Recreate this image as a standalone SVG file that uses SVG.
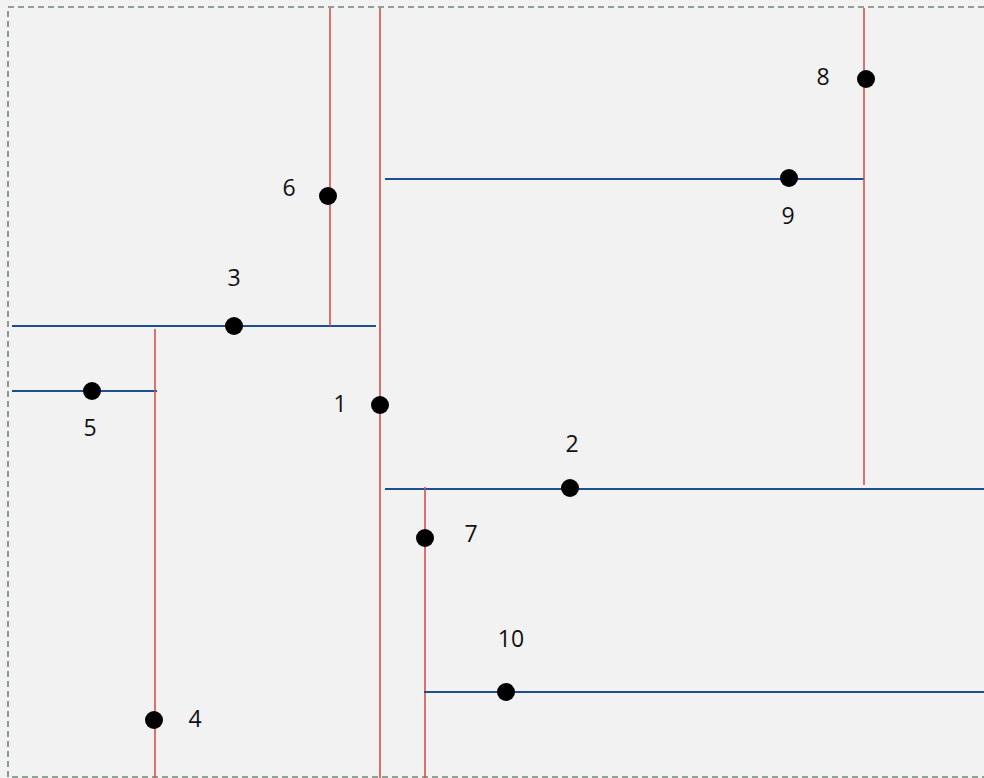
<svg xmlns="http://www.w3.org/2000/svg" width="984" height="778" viewBox="0 0 984 778">
<style>
.v{stroke:#d2504c;stroke-width:1.6;fill:none}
.h{stroke:#1d4f8f;stroke-width:2;fill:none}
.pt{fill:#000}
.lb{font-family:"Open Sans","DejaVu Sans",sans-serif;font-size:23px;fill:#111;text-anchor:middle;dominant-baseline:central}
</style>
<rect x="0" y="0" width="984" height="778" fill="#f2f2f2"/>
<rect x="8" y="7" width="990" height="770" fill="none" stroke="#718577" stroke-width="1.6" stroke-dasharray="6,4"/>
<g id="connectors">
<line class="v" x1="380" y1="8" x2="380" y2="778"/>
<line class="h" x1="12" y1="326" x2="376" y2="326"/>
<line class="v" x1="330" y1="8" x2="330" y2="326"/>
<line class="h" x1="12" y1="391" x2="157" y2="391"/>
<line class="v" x1="155" y1="329" x2="155" y2="778"/>
<line class="h" x1="385" y1="179" x2="864" y2="179"/>
<line class="v" x1="864" y1="8" x2="864" y2="485"/>
<line class="h" x1="385" y1="489" x2="984" y2="489"/>
<line class="v" x1="425" y1="487" x2="425" y2="778"/>
<line class="h" x1="424" y1="692" x2="984" y2="692"/>
</g>
<g id="n1"><circle class="pt" cx="380" cy="405" r="9"/><text class="lb" x="340" y="403">1</text></g>
<g id="n2"><circle class="pt" cx="570" cy="488" r="9"/><text class="lb" x="572" y="443">2</text></g>
<g id="n3"><circle class="pt" cx="234" cy="326" r="9"/><text class="lb" x="234" y="277">3</text></g>
<g id="n4"><circle class="pt" cx="154" cy="720" r="9"/><text class="lb" x="195" y="718">4</text></g>
<g id="n5"><circle class="pt" cx="92" cy="391" r="9"/><text class="lb" x="90" y="427">5</text></g>
<g id="n6"><circle class="pt" cx="328" cy="196" r="9"/><text class="lb" x="289" y="187">6</text></g>
<g id="n7"><circle class="pt" cx="425" cy="538" r="9"/><text class="lb" x="471" y="533">7</text></g>
<g id="n8"><circle class="pt" cx="866" cy="79" r="9"/><text class="lb" x="823" y="76">8</text></g>
<g id="n9"><circle class="pt" cx="789" cy="178" r="9"/><text class="lb" x="788" y="215">9</text></g>
<g id="n10"><circle class="pt" cx="506" cy="692" r="9"/><text class="lb" x="511" y="638">10</text></g>
</svg>
